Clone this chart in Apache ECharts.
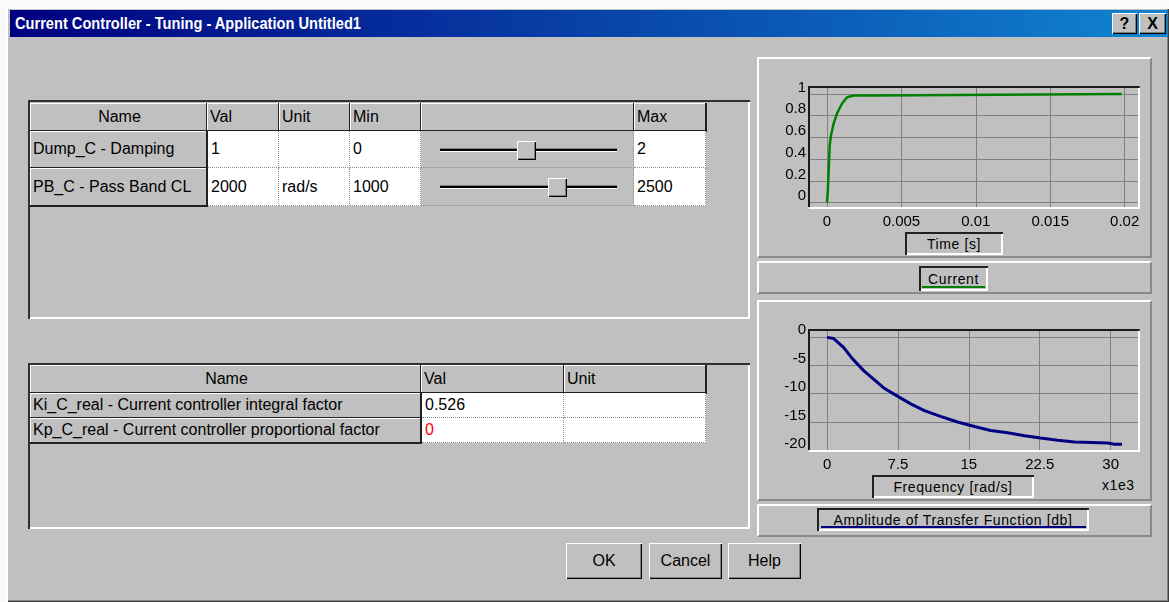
<!DOCTYPE html>
<html>
<head>
<meta charset="utf-8">
<title>Current Controller - Tuning</title>
<script src="https://cdn.jsdelivr.net/npm/echarts@6/dist/echarts.min.js"></script>
<style>
  html, body { margin: 0; padding: 0; background: #fafafa; }
  body { width: 1169px; height: 602px; position: relative; overflow: hidden;
         font-family: "Liberation Sans", Arial, sans-serif; color: #000; }
  .abs { position: absolute; box-sizing: border-box; }
  .win { left: 7px; top: 8px; width: 1162px; height: 594px; background: #c0c0c0;
         box-shadow: inset 1px 1px #fff, inset -1px -1px #404040, inset -2px -2px #808080; }
  .titlebar { left: 10px; top: 10px; width: 1158px; height: 27px;
              background: linear-gradient(to right, #000080, #1084d0); }
  .titletext { left: 15px; top: 13px; color: #fff; font-weight: bold; font-size: 17px;
               white-space: nowrap; transform: scaleX(0.86); transform-origin: left center; line-height: 21px; }
  .raised { background: #c0c0c0;
            box-shadow: inset 1px 1px #fff, inset -1px -1px #000, inset -2px -2px #808080; }
  .sunken { box-shadow: inset 2px 2px #303030, inset -2px -2px #fff; }
  .etched { border-top: 2px solid #fff; border-left: 2px solid #fff;
            border-right: 2px solid #8a8a8a; border-bottom: 2px solid #8a8a8a; }
  .cell { font-size: 16px; line-height: 1; display: flex; align-items: center; padding-left: 3px; white-space: nowrap; }
  .hdr { background: #c0c0c0; border-right: 2px solid #202020; border-bottom: 2px solid #202020;
         box-shadow: inset 1px 1px #fff; }
  .val { background: #fff; border-right: 1px dotted #909090; border-bottom: 1px dotted #909090; }
  .gray { background: #c0c0c0; border-right: 1px dotted #909090; border-bottom: 1px dotted #909090; }
  .track { height: 4px; border-top: 1px solid #808080; background: #000; border-bottom: 1px solid #fff; }
  .thumb { width: 19px; height: 19px; }
  .btn { font-size: 16px; display: flex; align-items: center; justify-content: center; }
  .box { font-size: 14px; letter-spacing: 0.6px; display: flex; align-items: center; justify-content: center;
         box-shadow: inset 2px 2px #202020, inset -2px -2px #fff; }
  .tbtn { font-weight: bold; font-size: 16px; display: flex; align-items: center; justify-content: center; }
</style>
</head>
<body>
<div class="abs win"></div>
<div class="abs titlebar"></div>
<div class="abs titletext">Current Controller - Tuning - Application Untitled1</div>
<div class="abs raised tbtn" style="left:1112px;top:13px;width:25px;height:21px;">?</div>
<div class="abs raised tbtn" style="left:1139px;top:13px;width:27px;height:21px;">X</div>

<!-- parameter table -->
<div class="abs sunken" style="left:28px;top:100px;width:722px;height:219px;"></div>
<div class="abs cell hdr" style="left:30px;top:103px;width:178px;height:29px;justify-content:center;">Name</div>
<div class="abs cell hdr" style="left:207px;top:103px;width:73px;height:29px;">Val</div>
<div class="abs cell hdr" style="left:279px;top:103px;width:72px;height:29px;">Unit</div>
<div class="abs cell hdr" style="left:350px;top:103px;width:72px;height:29px;">Min</div>
<div class="abs cell hdr" style="left:421px;top:103px;width:214px;height:29px;"></div>
<div class="abs cell hdr" style="left:634px;top:103px;width:73px;height:29px;">Max</div>

<div class="abs cell hdr" style="left:30px;top:131px;width:178px;height:38px;">Dump_C - Damping</div>
<div class="abs cell val" style="left:208px;top:131px;width:71px;height:37px;">1</div>
<div class="abs cell val" style="left:279px;top:131px;width:71px;height:37px;"></div>
<div class="abs cell val" style="left:350px;top:131px;width:71px;height:37px;">0</div>
<div class="abs cell gray" style="left:421px;top:131px;width:213px;height:37px;"></div>
<div class="abs cell val" style="left:634px;top:131px;width:72px;height:37px;">2</div>

<div class="abs cell hdr" style="left:30px;top:168px;width:178px;height:39px;">PB_C - Pass Band CL</div>
<div class="abs cell val" style="left:208px;top:168px;width:71px;height:38px;">2000</div>
<div class="abs cell val" style="left:279px;top:168px;width:71px;height:38px;">rad/s</div>
<div class="abs cell val" style="left:350px;top:168px;width:71px;height:38px;">1000</div>
<div class="abs cell gray" style="left:421px;top:168px;width:213px;height:38px;"></div>
<div class="abs cell val" style="left:634px;top:168px;width:72px;height:38px;">2500</div>

<div class="abs track" style="left:440px;top:148px;width:177px;"></div>
<div class="abs raised thumb" style="left:517px;top:141px;"></div>
<div class="abs track" style="left:440px;top:185px;width:177px;"></div>
<div class="abs raised thumb" style="left:548px;top:178px;"></div>

<!-- result table -->
<div class="abs sunken" style="left:28px;top:363px;width:722px;height:166px;"></div>
<div class="abs cell hdr" style="left:30px;top:365px;width:392px;height:29px;justify-content:center;">Name</div>
<div class="abs cell hdr" style="left:421px;top:365px;width:144px;height:29px;">Val</div>
<div class="abs cell hdr" style="left:564px;top:365px;width:143px;height:29px;">Unit</div>
<div class="abs cell hdr" style="left:30px;top:393px;width:392px;height:26px;">Ki_C_real - Current controller integral factor</div>
<div class="abs cell val" style="left:422px;top:393px;width:142px;height:25px;">0.526</div>
<div class="abs cell val" style="left:564px;top:393px;width:142px;height:25px;"></div>
<div class="abs cell hdr" style="left:30px;top:418px;width:392px;height:26px;">Kp_C_real - Current controller proportional factor</div>
<div class="abs cell val" style="left:422px;top:418px;width:142px;height:25px;color:#ff0000;">0</div>
<div class="abs cell val" style="left:564px;top:418px;width:142px;height:25px;"></div>

<!-- buttons -->
<div class="abs raised btn" style="left:566px;top:543px;width:76px;height:36px;">OK</div>
<div class="abs raised btn" style="left:649px;top:543px;width:73px;height:36px;">Cancel</div>
<div class="abs raised btn" style="left:728px;top:543px;width:73px;height:36px;">Help</div>

<!-- chart panels -->
<div class="abs etched" style="left:757px;top:57px;width:395px;height:201px;"></div>
<div class="abs etched" style="left:757px;top:261px;width:395px;height:33px;"></div>
<div class="abs etched" style="left:757px;top:300px;width:395px;height:201px;"></div>
<div class="abs etched" style="left:757px;top:504px;width:395px;height:33px;"></div>

<div id="chartTime" class="abs" style="left:758px;top:60px;width:392px;height:170px;"></div>
<div id="chartFreq" class="abs" style="left:758px;top:303px;width:392px;height:170px;"></div>

<div class="abs box" style="left:905px;top:232px;width:98px;height:23px;">Time [s]</div>
<div class="abs box" style="left:919px;top:266px;width:69px;height:25px;">Current</div>
<div class="abs" style="left:922px;top:286px;width:63px;height:2px;background:#008000;"></div>
<div class="abs box" style="left:872px;top:475px;width:162px;height:23px;">Frequency [rad/s]</div>
<div class="abs" style="left:1102px;top:477px;font-size:14px;letter-spacing:0.6px;">x1e3</div>
<div class="abs box" style="left:817px;top:508px;width:272px;height:23px;">Amplitude of Transfer Function [db]</div>
<div class="abs" style="left:821px;top:526px;width:265px;height:2px;background:#000080;"></div>

<script>
// step response of the current loop
const timeS = [0, 0.00005, 0.00011, 0.00018, 0.00027, 0.00045, 0.00067, 0.001, 0.00135, 0.0018, 0.0031, 0.0032, 0.0198];
const current = [0, 0.1, 0.28, 0.53, 0.62, 0.73, 0.82, 0.91, 0.97, 0.985, 0.985, 1.0, 1.0];
const timeTicks = [0, 0.005, 0.01, 0.015, 0.02];
const currentTicks = [0, 0.2, 0.4, 0.6, 0.8, 1];

// amplitude of the transfer function, frequency in 1e3 rad/s
const freqK = [0, 0.7, 1.77, 2.65, 3.9, 4.95, 6.0, 7.4, 8.85, 10.3, 12.0, 13.8, 15.6, 17.3, 19.1, 20.9, 22.6, 24.4, 26.2, 28.0, 29.7, 30.4, 31.2];
const ampDb = [-0.1, -0.3, -1.9, -3.8, -6.0, -7.5, -9.0, -10.4, -11.8, -13.0, -14.0, -15.0, -15.8, -16.5, -16.9, -17.4, -17.8, -18.2, -18.5, -18.6, -18.7, -18.9, -18.9];
const freqTicks = [0, 7.5, 15, 22.5, 30];
const ampTicks = [-20, -15, -10, -5, 0];

const FONT = 'Liberation Sans, Arial, sans-serif';

function plotOption (xr, yr, xTicks, yTicks, xs, ys, color, width) {
  const grid = {left: 51, top: 27, width: 330, height: 121};
  const lbl = {color: '#000', fontSize: 15, fontFamily: FONT};
  return {
    animation: false,
    grid: grid,
    xAxis: [{
      type: 'value', min: xr[0], max: xr[1], position: 'bottom',
      axisLine: {show: true, onZero: false, lineStyle: {color: '#fff', width: 2}},
      axisTick: {show: false, customValues: xTicks},
      axisLabel: Object.assign({customValues: xTicks, margin: 6, formatter: v => String(v)}, lbl),
      splitLine: {show: true, lineStyle: {color: '#808080', width: 1}}
    }, {
      type: 'value', min: xr[0], max: xr[1], position: 'top',
      axisLine: {show: true, onZero: false, lineStyle: {color: '#1a1a1a', width: 2}},
      axisTick: {show: false}, axisLabel: {show: false}, splitLine: {show: false}
    }],
    yAxis: [{
      type: 'value', min: yr[0], max: yr[1], position: 'left',
      axisLine: {show: true, onZero: false, lineStyle: {color: '#1a1a1a', width: 2}},
      axisTick: {show: false, customValues: yTicks},
      // labels sit just above their grid line, as in the original
      axisLabel: Object.assign({customValues: yTicks, margin: 3, verticalAlign: 'bottom', lineHeight: 13, formatter: v => String(v)}, lbl),
      splitLine: {show: true, lineStyle: {color: '#808080', width: 1}}
    }, {
      type: 'value', min: yr[0], max: yr[1], position: 'right',
      axisLine: {show: true, onZero: false, lineStyle: {color: '#fff', width: 2}},
      axisTick: {show: false}, axisLabel: {show: false}, splitLine: {show: false}
    }],
    series: [{
      type: 'line',
      xAxisIndex: 0,
      yAxisIndex: 0,
      showSymbol: false,
      data: xs.map((x, i) => [x, ys[i]]),
      lineStyle: {color: color, width: width},
      z: 5
    }]
  }
}

const timeChart = echarts.init(document.getElementById('chartTime'))
timeChart.setOption(plotOption([-0.00121, 0.02096], [-0.049, 1.064], timeTicks, currentTicks, timeS, current, '#008000', 2.5))

const freqChart = echarts.init(document.getElementById('chartFreq'))
freqChart.setOption(plotOption([-1.91, 33.0], [-20.1, 1.2], freqTicks, ampTicks, freqK, ampDb, '#000080', 3))
</script>
</body>
</html>
